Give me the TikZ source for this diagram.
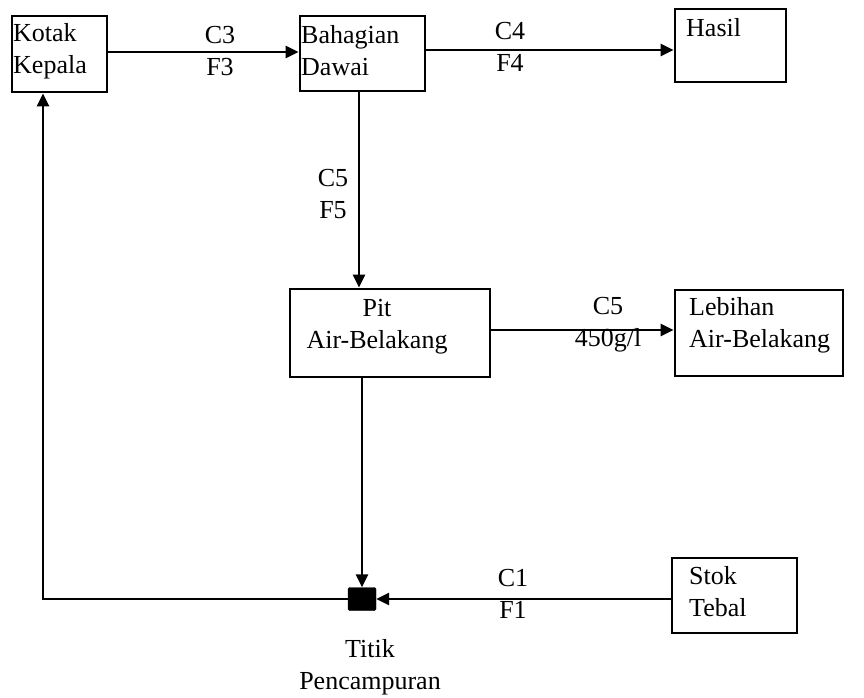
\documentclass[tikz,border=0pt]{standalone}
\usepackage{fontspec}
\setmainfont{Liberation Serif}
\usetikzlibrary{arrows.meta}
\begin{document}
\begin{tikzpicture}[x=1pt,y=-1pt,
  boxnode/.style={draw=black,line width=2.8pt,inner sep=0pt},
  txt/.style={font=\fontsize{26}{32}\selectfont,inner sep=0pt,align=left},
  ctxt/.style={font=\fontsize{26}{32}\selectfont,inner sep=0pt,align=center},
  arr/.style={line width=2.5pt,-{Triangle[length=13pt,width=12pt]}},
  ln/.style={line width=2.5pt}]
\useasboundingbox (0,0) rectangle (864,697);
% boxes
\node[boxnode,minimum width=95pt,minimum height=76pt] (kotak) at (59.5,54) {};
\node[boxnode,minimum width=125pt,minimum height=75pt] (bahagian) at (362.5,53.5) {};
\node[boxnode,minimum width=111pt,minimum height=73pt] (hasil) at (730.5,45.5) {};
\node[boxnode,minimum width=200pt,minimum height=88pt] (pit) at (390,333) {};
\node[boxnode,minimum width=168pt,minimum height=86pt] (lebihan) at (759,333) {};
\node[boxnode,minimum width=125pt,minimum height=75pt] (stok) at (734.5,595.5) {};
\node[fill=black,draw=black,rounded corners=1.5pt,minimum width=28pt,minimum height=23pt,inner sep=0pt] (mix) at (362,599) {};
% box texts
\node[txt,anchor=west] (kotakt) at (13,51) {Kotak\\Kepala};
\node[txt,anchor=west] (bahagiant) at (301,51) {Bahagian\\Dawai};
\node[txt,anchor=west] (hasilt) at (686,28) {Hasil};
\node[ctxt] (pitt) at (377,327) {Pit\\Air-Belakang};
\node[txt,anchor=west] (lebihant) at (689,325) {Lebihan\\Air-Belakang};
\node[txt,anchor=west] (stokt) at (689,592) {Stok\\Tebal};
\node[ctxt] (titik) at (370,667) {Titik\\Pencampuran};
% stream labels
\node[ctxt] (l3) at (220,51) {C3\\F3};
\node[ctxt] (l4) at (510,47) {C4\\F4};
\node[ctxt] (l5) at (333,194) {C5\\F5};
\node[ctxt] (l6) at (608,325) {C5\\450g/l};
\node[ctxt] (l1) at (513,594) {C1\\F1};
% connectors
\coordinate (kc) at (43,599);
\draw[arr] ([yshift=2pt]kotak.east) -- ([yshift=2pt]kotak.east -| bahagian.west);
\draw[arr] ([yshift=3.5pt]bahagian.east) -- ([yshift=3.5pt]bahagian.east -| hasil.west);
\draw[arr] ([xshift=-3.5pt]bahagian.south) -- ([xshift=-3.5pt]bahagian.south |- pit.north);
\draw[arr] ([yshift=3pt]pit.east) -- ([yshift=3pt]pit.east -| lebihan.west);
\draw[arr] (mix.north |- pit.south) -- (mix.north);
\draw[arr] (stok.west |- mix.east) -- (mix.east);
\draw[arr] (mix.west) -- (kc) -- (kc |- kotak.south);
\end{tikzpicture}
\end{document}
